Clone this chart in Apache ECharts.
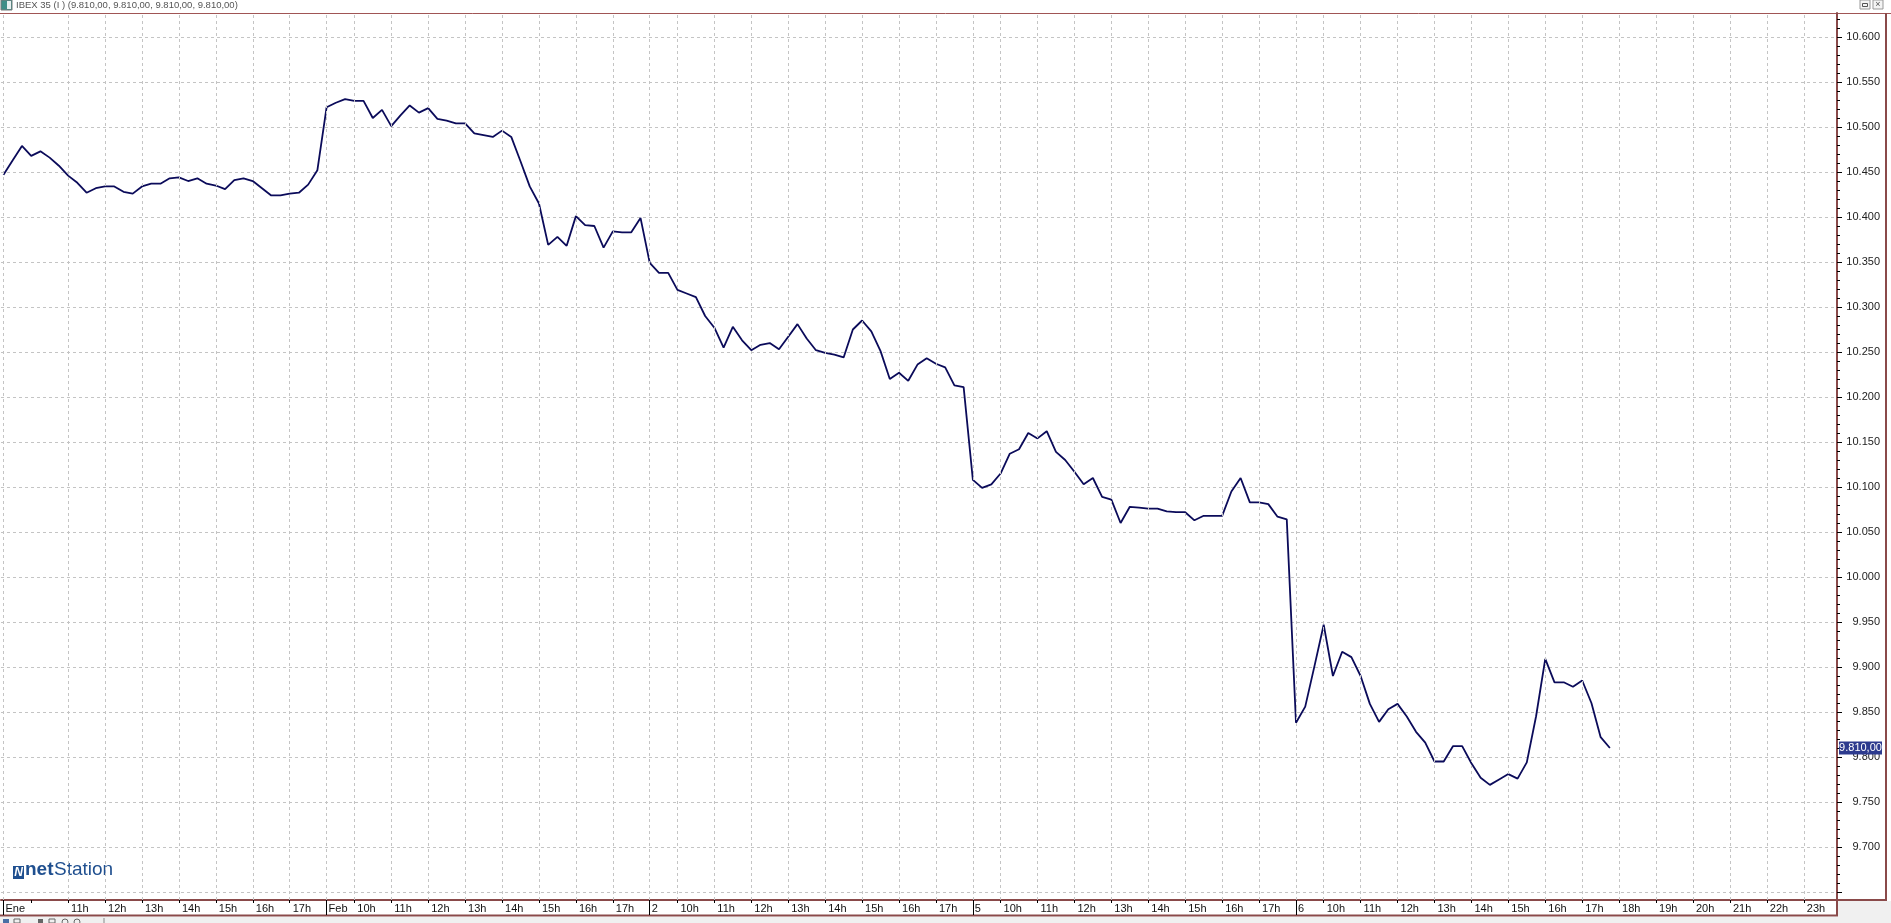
<!DOCTYPE html>
<html><head><meta charset="utf-8">
<script src="https://cdn.jsdelivr.net/npm/echarts@6/dist/echarts.min.js"></script>
<style>html,body{margin:0;padding:0;background:#fff;overflow:hidden}#c{width:1891px;height:923px}</style>
</head><body><div id="c"></div>
<script>
// ---- data (15-minute closes, IBEX 35) ----
const dayLabels = ['Ene', 'Feb', '2', '5', '6'];
const hourLabels = ['10h','11h','12h','13h','14h','15h','16h','17h','18h','19h','20h','21h','22h','23h'];
const day1 = [10447,10463,10479,10468,10473,10466,10457,10446,10438,10427,10432,10434,10434,10428,10426,10434,10437,10437,10443,10444,10440,10443,10437,10435,10431,10441,10443,10440,10432,10424,10424,10426,10427,10436,10452];
const day2 = [10522,10527,10531,10529,10529,10510,10519,10501,10513,10524,10516,10521,10509,10507,10504,10504,10493,10491,10489,10496,10489,10462,10434,10415,10369,10378,10368,10401,10391,10390,10366,10384,10383,10383,10399];
const day3 = [10349,10338,10338,10319,10315,10311,10290,10277,10255,10278,10263,10252,10258,10260,10253,10267,10281,10265,10252,10249,10247,10244,10275,10285,10273,10251,10220,10227,10218,10236,10243,10237,10233,10213,10211];
const day4 = [10108,10099,10103,10115,10137,10142,10160,10154,10162,10139,10130,10117,10103,10110,10089,10086,10060,10078,10077,10076,10076,10073,10072,10072,10063,10068,10068,10068,10095,10110,10083,10083,10081,10067,10064];
const day5 = [9838,9856,9901,9947,9890,9917,9911,9890,9859,9839,9853,9859,9845,9828,9816,9795,9795,9812,9812,9793,9777,9769,9775,9781,9776,9794,9845,9909,9883,9883,9878,9885,9860,9822,9810];
const yTickValues = [9650,9700,9750,9800,9850,9900,9950,10000,10050,10100,10150,10200,10250,10300,10350,10400,10450,10500,10550,10600];
const yLabelValues = [9700,9750,9800,9850,9900,9950,10000,10050,10100,10150,10200,10250,10300,10350,10400,10450,10500,10550,10600];
const lastPrice = 9810;
const titleText = 'IBEX 35 (I ) (9.810,00, 9.810,00, 9.810,00, 9.810,00)';

// ---- build ----
const PER_DAY = 35;
const days = [day1, day2, day3, day4, day5];
const seriesData = [];
days.forEach((arr, d) => arr.forEach((v, i) => seriesData.push([d * PER_DAY + i, v])));

const hourTicks = [], hourLabelIdx = [], labelText = {};
const daySep = [], dayText = {};
days.forEach((arr, d) => {
  const s = d * PER_DAY;
  daySep.push(s); dayText[s] = dayLabels[d];
  const maxH = d === days.length - 1 ? hourLabels.length : 8;
  for (let k = 0; k < maxH; k++) {
    const g = s + 3 + 4 * k;
    hourTicks.push(g);
    if (!(d === 0 && k === 0)) hourLabelIdx.push(g);
    labelText[g] = hourLabels[k];
  }
});
const gridX = daySep.concat(hourLabelIdx);
const minorY = [];
for (let v = 9650; v <= 10620; v += 10) minorY.push(v);

const XMIN = -0.27, XMAX = 198.6;
const YMIN = 9641.1, YMAX = 10626.7;
const FONT = '"Liberation Sans", Arial, sans-serif';
const BROWN = '#8a4a4a';
const GRIDC = '#c4c4c4';

const chart = echarts.init(document.getElementById('c'));
const option = {
  animation: false,
  backgroundColor: '#ffffff',
  grid: { left: 1, right: 54, top: 13, bottom: 23, containLabel: false },
  xAxis: [
    { type: 'value', min: XMIN, max: XMAX, position: 'bottom',
      axisLine: { show: true, onZero: false, lineStyle: { color: BROWN, width: 2 } },
      axisTick: { show: true, customValues: hourTicks, length: 3, lineStyle: { color: '#000', width: 1 } },
      axisLabel: { show: true, customValues: hourLabelIdx, formatter: v => labelText[Math.round(v)] || '',
        align: 'left', margin: 3, padding: [0, 0, 0, 3], fontSize: 11, fontFamily: FONT, color: '#111' },
      splitLine: { show: false } },
    { type: 'value', min: XMIN, max: XMAX, position: 'bottom',
      axisLine: { show: false, onZero: false },
      axisTick: { show: true, customValues: daySep, length: 15, lineStyle: { color: '#000', width: 1 } },
      axisLabel: { show: true, customValues: daySep, formatter: v => dayText[Math.round(v)] || '',
        align: 'left', margin: 3, padding: [0, 0, 0, 2], fontSize: 11, fontFamily: FONT, color: '#111' },
      splitLine: { show: false } }
  ],
  yAxis: [
    { type: 'value', min: YMIN, max: YMAX, position: 'right',
      axisLine: { show: true, onZero: false, lineStyle: { color: BROWN, width: 2 } },
      axisTick: { show: true, customValues: yTickValues, length: 5, lineStyle: { color: '#000', width: 1 } },
      axisLabel: { show: true, customValues: yLabelValues, formatter: v => (v / 1000).toFixed(3),
        align: 'right', margin: 43, fontSize: 11, fontFamily: FONT, color: '#222' },
      splitLine: { show: true, lineStyle: { color: GRIDC, width: 1, type: [3, 3] } } },
    { type: 'value', min: YMIN, max: YMAX, position: 'right',
      axisLine: { show: false, onZero: false },
      axisTick: { show: true, customValues: minorY, length: 3, lineStyle: { color: '#000', width: 1 } },
      axisLabel: { show: false },
      splitLine: { show: false } }
  ],
  series: [
    { type: 'line', xAxisIndex: 0, yAxisIndex: 0, data: seriesData, z: 1,
      showSymbol: false, symbol: 'none', silent: true,
      lineStyle: { opacity: 0 },
      markLine: { silent: true, symbol: ['none', 'none'], label: { show: false },
        lineStyle: { color: GRIDC, width: 1, type: [3, 3] },
        data: gridX.map(g => ({ xAxis: g })) } },
    { type: 'line', xAxisIndex: 0, yAxisIndex: 0, data: seriesData, z: 3,
      showSymbol: false, symbol: 'none',
      lineStyle: { color: '#0b0b5a', width: 1.8 } }
  ],
  graphic: [
    // top strip
    { type: 'rect', shape: { x: 1, y: 0, width: 11, height: 10 }, style: { fill: '#3f8f88', stroke: '#7a7a7a', lineWidth: 1 } },
    { type: 'rect', shape: { x: 7, y: 1, width: 4, height: 8 }, style: { fill: '#e8f0f0' } },
    { type: 'text', x: 16, y: 5, style: { text: titleText, font: '9.5px ' + FONT, fill: '#555', verticalAlign: 'middle' } },
    { type: 'rect', shape: { x: 1860, y: 0, width: 10, height: 9 }, style: { fill: '#f4f4f4', stroke: '#999', lineWidth: 1 } },
    { type: 'rect', shape: { x: 1862.5, y: 3.5, width: 5, height: 3 }, style: { fill: 'none', stroke: '#555', lineWidth: 1 } },
    { type: 'rect', shape: { x: 1873, y: 0, width: 10, height: 9 }, style: { fill: '#f4f4f4', stroke: '#999', lineWidth: 1 } },
    { type: 'text', x: 1878, y: 4.5, style: { text: '×', font: '9px ' + FONT, fill: '#555', align: 'center', verticalAlign: 'middle' } },
    // frame
    { type: 'line', shape: { x1: 0, y1: 13.5, x2: 1891, y2: 13.5 }, style: { stroke: '#a05555', lineWidth: 1 } },
    { type: 'line', shape: { x1: 1886, y1: 13, x2: 1886, y2: 901 }, style: { stroke: BROWN, lineWidth: 2 } },
    { type: 'line', shape: { x1: 1836, y1: 900, x2: 1887, y2: 900 }, style: { stroke: BROWN, lineWidth: 2 } },
    { type: 'line', shape: { x1: 1837, y1: 899, x2: 1837, y2: 916 }, style: { stroke: BROWN, lineWidth: 2 } },
    { type: 'line', shape: { x1: 0, y1: 915.5, x2: 1838, y2: 915.5 }, style: { stroke: BROWN, lineWidth: 2 } },
    // bottom toolbar
    { type: 'rect', shape: { x: 0, y: 917, width: 1891, height: 6 }, style: { fill: '#f0f0f0' } },
    { type: 'rect', shape: { x: 1838, y: 901, width: 53, height: 16 }, style: { fill: '#f0f0f0' } },
    { type: 'rect', shape: { x: 3, y: 919, width: 6, height: 4 }, style: { fill: '#4a6fa5' } },
    { type: 'rect', shape: { x: 14, y: 919, width: 6, height: 4 }, style: { fill: 'none', stroke: '#666', lineWidth: 1 } },
    { type: 'rect', shape: { x: 38, y: 919, width: 5, height: 4 }, style: { fill: '#666' } },
    { type: 'rect', shape: { x: 49, y: 919, width: 6, height: 4 }, style: { fill: 'none', stroke: '#666', lineWidth: 1 } },
    { type: 'circle', shape: { cx: 65, cy: 922, r: 3 }, style: { fill: 'none', stroke: '#666', lineWidth: 1 } },
    { type: 'circle', shape: { cx: 77, cy: 922, r: 3 }, style: { fill: 'none', stroke: '#666', lineWidth: 1 } },
    { type: 'line', shape: { x1: 104, y1: 918, x2: 104, y2: 923 }, style: { stroke: '#888', lineWidth: 1 } },
    // logo
    { type: 'rect', shape: { x: 13, y: 866, width: 11, height: 13 }, style: { fill: '#1f4f8f' } },
    { type: 'text', x: 18.5, y: 872.5, style: { text: 'N', font: 'bold italic 12px ' + FONT, fill: '#fff', align: 'center', verticalAlign: 'middle' } },
    { type: 'text', x: 25, y: 879, style: { text: 'net', font: 'bold 19px ' + FONT, fill: '#1f4f8f', verticalAlign: 'bottom' } },
    { type: 'text', x: 54, y: 879, style: { text: 'Station', font: '19px ' + FONT, fill: '#1f4f8f', verticalAlign: 'bottom' } }
  ]
};
chart.setOption(option);
const py = chart.convertToPixel({ yAxisIndex: 0 }, lastPrice);
chart.setOption({ graphic: option.graphic.concat([
  { type: 'rect', shape: { x: 1839, y: Math.round(py) - 6.5, width: 43, height: 13 }, style: { fill: '#2d3b8e' }, z: 100 },
  { type: 'text', x: 1860.5, y: Math.round(py), style: { text: '9.810,00', font: '11px ' + FONT, fill: '#fff', align: 'center', verticalAlign: 'middle' }, z: 101 }
]) });
</script>
</body></html>
